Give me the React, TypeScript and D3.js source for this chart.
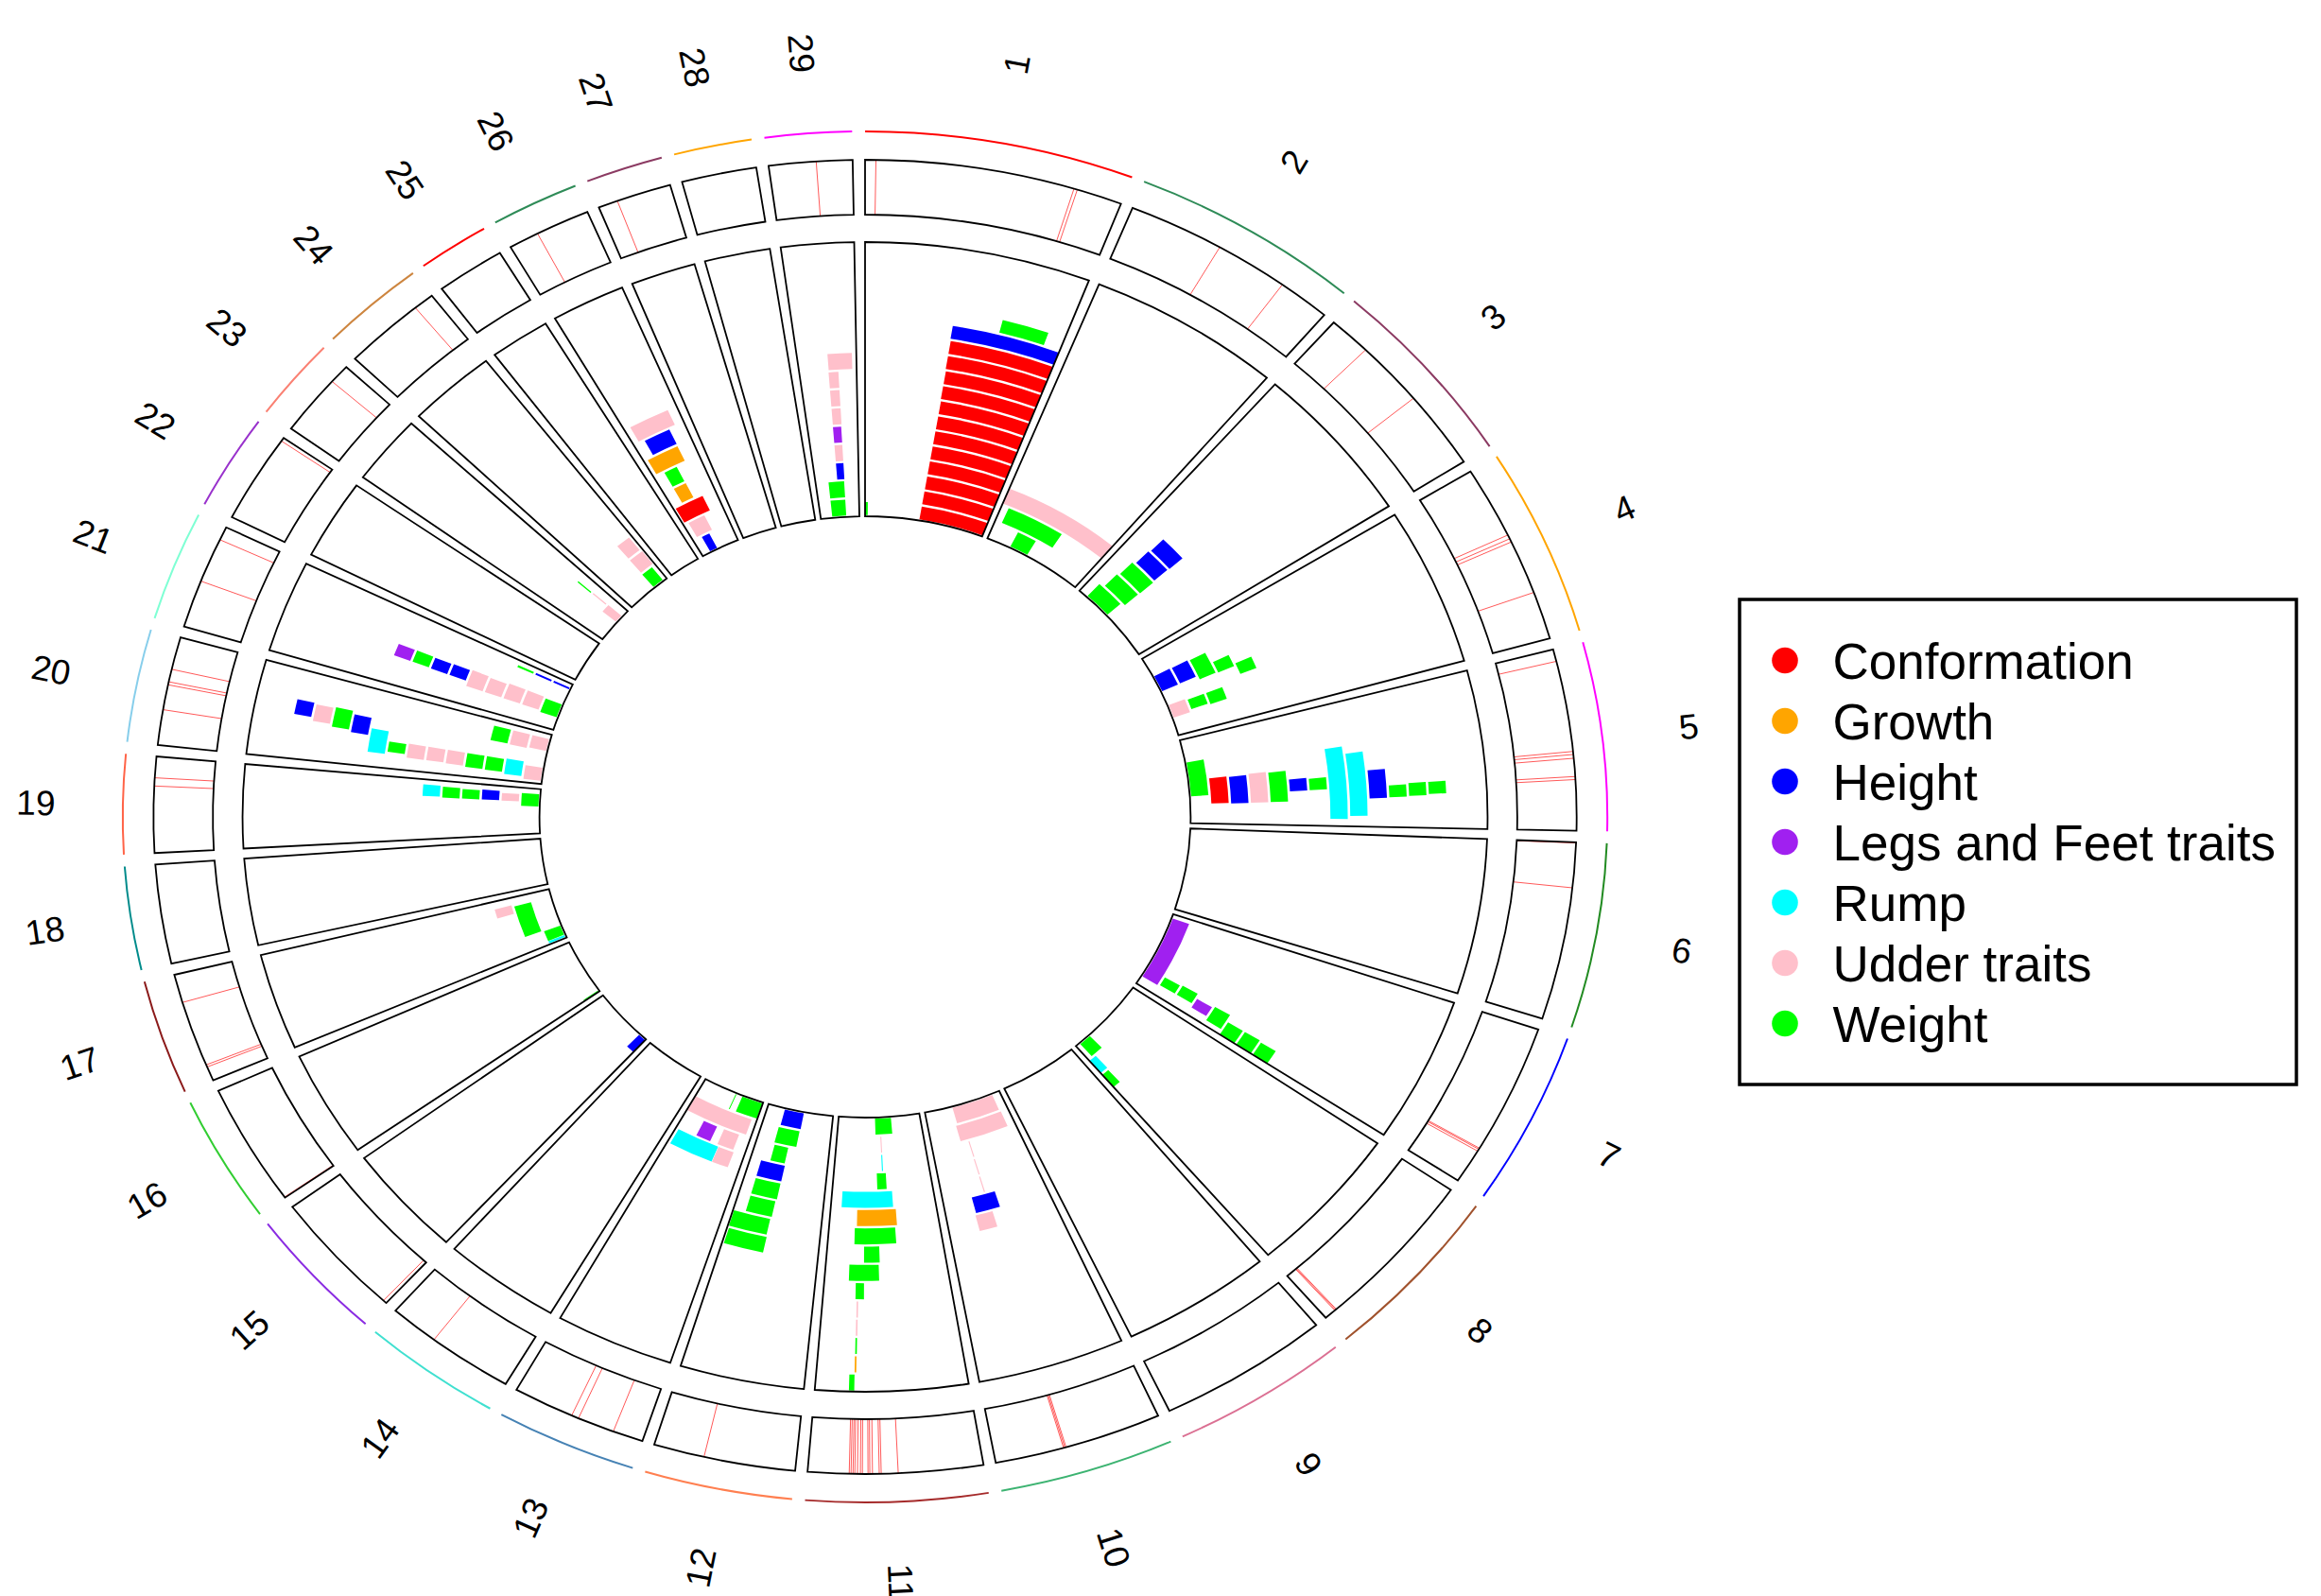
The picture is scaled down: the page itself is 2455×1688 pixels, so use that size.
import React, { useEffect, useRef } from 'react';
import * as d3 from 'd3';

// cattle autosomes, lengths in Mb
const chromosomes = ['1', '2', '3', '4', '5', '6', '7', '8', '9', '10', '11', '12', '13', '14', '15',
  '16', '17', '18', '19', '20', '21', '22', '23', '24', '25', '26', '27', '28', '29'];
const chromLengths = [158.53, 136.23, 121.01, 120.0, 120.09, 117.81, 110.68, 113.32, 105.45, 103.31,
  106.98, 87.22, 83.47, 82.4, 85.01, 81.01, 73.17, 65.82, 63.45, 71.97, 69.86, 60.77, 52.5, 62.32,
  42.35, 51.99, 45.61, 45.94, 51.1];
const chromColors = ['#FF0000', '#2E8B57', '#8B3A62', '#FFA500', '#FF00FF', '#228B22', '#0000FF',
  '#A0522D', '#DB7093', '#3CB371', '#A52A2A', '#FF7F50', '#4682B4', '#40E0D0', '#8A2BE2', '#32CD32',
  '#8B1A1A', '#008B8B', '#FF6347', '#87CEEB', '#7FFFD4', '#9932CC', '#FA8072', '#CD853F',
  '#FF0000', '#2E8B57', '#8B3A62', '#FFA500', '#FF00FF'];
// stacking rows available in each sector of the inner track
const chromLevels = [18, 15, 15, 15, 15, 15, 15, 15, 15, 15, 15, 15, 15, 15, 15, 15, 15, 15, 15, 15,
  15, 15, 15, 15, 15, 15, 15, 15, 15];

const traits = ['Conformation', 'Growth', 'Height', 'Legs and Feet traits', 'Rump', 'Udder traits', 'Weight'];
const traitColors = ['#FF0000', '#FFA500', '#0000FF', '#A020F0', '#00FFFF', '#FFC0CB', '#00FF00'];

// [chromosome, start Mb, end Mb, stack level, trait]
const qtlRegions: [number, number, number, number, string][] = [
  [1, 0, 3.5, 0, 'Weight'],
  [1, 72, 158.5, 0, 'Conformation'],
  [1, 72, 158.5, 1, 'Conformation'],
  [1, 72, 158.5, 2, 'Conformation'],
  [1, 72, 158.5, 3, 'Conformation'],
  [1, 72, 158.5, 4, 'Conformation'],
  [1, 72, 158.5, 5, 'Conformation'],
  [1, 72, 158.5, 6, 'Conformation'],
  [1, 72, 158.5, 7, 'Conformation'],
  [1, 71.5, 158.5, 8, 'Conformation'],
  [1, 71.5, 158.5, 9, 'Conformation'],
  [1, 71, 158.5, 10, 'Conformation'],
  [1, 71, 158.5, 11, 'Conformation'],
  [1, 70.5, 158.5, 12, 'Height'],
  [1, 108, 145, 13, 'Weight'],
  [2, 32.5, 57.7, 0, 'Weight'],
  [2, 8.8, 80, 1, 'Weight'],
  [2, 0, 136.2, 2, 'Udder traits'],
  [3, 13, 50.5, 0, 'Weight'],
  [3, 19.5, 55.5, 1, 'Weight'],
  [3, 22, 56, 2, 'Weight'],
  [3, 25.5, 55, 3, 'Height'],
  [3, 27, 55.5, 4, 'Height'],
  [4, 29.5, 53.5, 0, 'Height'],
  [4, 30, 53, 1, 'Height'],
  [4, 31, 58, 2, 'Weight'],
  [4, 45, 59, 3, 'Weight'],
  [4, 56.5, 70, 4, 'Weight'],
  [4, 75, 94, 0, 'Udder traits'],
  [4, 77, 90.5, 1, 'Weight'],
  [4, 77, 92, 2, 'Weight'],
  [5, 32.8, 81.6, 0, 'Weight'],
  [5, 59, 93, 1, 'Conformation'],
  [5, 60, 94, 2, 'Height'],
  [5, 59, 94, 3, 'Udder traits'],
  [5, 60, 94, 4, 'Weight'],
  [5, 70, 83, 5, 'Height'],
  [5, 71, 83, 6, 'Weight'],
  [5, 42.6, 113, 7, 'Rump'],
  [5, 50, 110, 8, 'Rump'],
  [5, 68, 94, 9, 'Height'],
  [5, 83, 93.6, 10, 'Weight'],
  [5, 82, 93, 11, 'Weight'],
  [5, 82, 92, 12, 'Weight'],
  [7, 6, 98, 0, 'Legs and Feet traits'],
  [7, 84.5, 96.5, 1, 'Weight'],
  [7, 83, 96.5, 2, 'Weight'],
  [7, 89, 101, 3, 'Legs and Feet traits'],
  [7, 87, 105, 4, 'Weight'],
  [7, 95, 110.5, 5, 'Weight'],
  [7, 95, 110.5, 6, 'Weight'],
  [7, 96.5, 110.7, 7, 'Weight'],
  [8, 90, 107, 0, 'Weight'],
  [8, 103, 113, 1, 'Rump'],
  [8, 104, 113.3, 2, 'Weight'],
  [10, 10.7, 66.3, 0, 'Udder traits'],
  [10, 9.5, 68.5, 1, 'Udder traits'],
  [10, 59, 59.2, 2, 'Udder traits'],
  [10, 59.3, 59.5, 3, 'Udder traits'],
  [10, 59.6, 59.8, 4, 'Udder traits'],
  [10, 49.6, 73.8, 5, 'Height'],
  [10, 58, 75, 6, 'Udder traits'],
  [11, 38, 59, 0, 'Weight'],
  [11, 52.4, 52.6, 1, 'Udder traits'],
  [11, 52.4, 52.6, 2, 'Rump'],
  [11, 49, 59, 3, 'Weight'],
  [11, 43.5, 96, 4, 'Rump'],
  [11, 41, 80, 5, 'Growth'],
  [11, 43, 82, 6, 'Weight'],
  [11, 59, 73, 7, 'Weight'],
  [11, 60, 86, 8, 'Weight'],
  [11, 73, 80, 9, 'Weight'],
  [11, 78.3, 78.5, 10, 'Udder traits'],
  [11, 78.5, 78.7, 11, 'Udder traits'],
  [11, 78.7, 78.9, 12, 'Weight'],
  [11, 78.9, 79.1, 13, 'Growth'],
  [11, 79.6, 83.3, 14, 'Weight'],
  [12, 38.8, 64.4, 0, 'Height'],
  [12, 39.5, 66, 1, 'Weight'],
  [12, 48.6, 65, 2, 'Weight'],
  [12, 47.8, 75, 3, 'Height'],
  [12, 48, 75, 4, 'Weight'],
  [12, 49, 75, 5, 'Weight'],
  [12, 50, 86.2, 6, 'Weight'],
  [12, 49.4, 85.5, 7, 'Weight'],
  [13, 0.8, 28.7, 0, 'Weight'],
  [13, 37.4, 37.8, 0, 'Weight'],
  [13, 6.5, 82.5, 1, 'Udder traits'],
  [13, 14, 33, 2, 'Udder traits'],
  [13, 42, 59, 2, 'Legs and Feet traits'],
  [13, 12.5, 30.5, 3, 'Udder traits'],
  [13, 31, 80, 3, 'Rump'],
  [15, 0.5, 11, 0, 'Height'],
  [16, 1, 2, 0, 'Weight'],
  [17, 1.5, 4.5, 0, 'Rump'],
  [17, 5, 19, 0, 'Weight'],
  [17, 20.3, 61.5, 1, 'Weight'],
  [17, 52.5, 63.8, 2, 'Udder traits'],
  [19, 38.7, 56, 0, 'Weight'],
  [19, 44.7, 54.5, 1, 'Udder traits'],
  [19, 45, 57, 2, 'Height'],
  [19, 45, 56, 3, 'Weight'],
  [19, 45, 57, 4, 'Weight'],
  [19, 46, 58, 5, 'Rump'],
  [20, 4.6, 23.4, 0, 'Udder traits'],
  [20, 8, 28, 1, 'Rump'],
  [20, 10.5, 27, 2, 'Weight'],
  [20, 11, 27, 3, 'Weight'],
  [20, 12, 27, 4, 'Udder traits'],
  [20, 12.7, 27, 5, 'Udder traits'],
  [20, 12.7, 27, 6, 'Udder traits'],
  [20, 16, 26, 7, 'Weight'],
  [20, 13.6, 35.5, 8, 'Rump'],
  [20, 29, 45, 9, 'Height'],
  [20, 31, 48, 10, 'Weight'],
  [20, 33, 47, 11, 'Udder traits'],
  [20, 36, 48, 12, 'Height'],
  [20, 47.6, 65, 0, 'Udder traits'],
  [20, 46.5, 65, 1, 'Udder traits'],
  [20, 47, 65, 2, 'Weight'],
  [21, 18.3, 37.8, 0, 'Weight'],
  [21, 20.5, 39.4, 1, 'Udder traits'],
  [21, 20.5, 39.5, 2, 'Udder traits'],
  [21, 20.5, 38, 3, 'Udder traits'],
  [21, 20.5, 39, 4, 'Udder traits'],
  [21, 26, 38, 5, 'Height'],
  [21, 26, 37.5, 6, 'Height'],
  [21, 26.5, 38, 7, 'Weight'],
  [21, 26.5, 38, 8, 'Legs and Feet traits'],
  [21, 61.5, 64, 0, 'Height'],
  [21, 61.5, 64, 1, 'Height'],
  [21, 61.5, 64, 2, 'Weight'],
  [23, 30.6, 41.9, 0, 'Udder traits'],
  [23, 40, 41.5, 1, 'Udder traits'],
  [23, 39.5, 41, 2, 'Weight'],
  [24, 41, 56.7, 0, 'Weight'],
  [24, 41.7, 60.5, 1, 'Udder traits'],
  [24, 42, 59, 2, 'Udder traits'],
  [26, 11.8, 22.3, 0, 'Height'],
  [26, 6.5, 27.6, 1, 'Udder traits'],
  [26, 2.4, 36.3, 2, 'Conformation'],
  [26, 12, 26.3, 3, 'Growth'],
  [26, 12, 26, 4, 'Weight'],
  [26, 3.9, 36.3, 5, 'Growth'],
  [26, 11, 36.6, 6, 'Height'],
  [26, 5.8, 43.3, 7, 'Udder traits'],
  [29, 15.3, 33.8, 0, 'Weight'],
  [29, 15.3, 33.8, 1, 'Weight'],
  [29, 25.9, 34.3, 2, 'Height'],
  [29, 25.9, 34.3, 3, 'Udder traits'],
  [29, 25.9, 34.3, 4, 'Legs and Feet traits'],
  [29, 26, 34.8, 5, 'Udder traits'],
  [29, 26, 34.8, 6, 'Udder traits'],
  [29, 26, 34.8, 7, 'Udder traits'],
  [29, 26.3, 47.3, 8, 'Udder traits'],
];

// significant SNPs in the middle track: [chromosome, position Mb]
const snpMarks: [number, number][] = [
  [1, 6.6], [1, 128.4], [1, 130.5],
  [2, 58.8], [2, 104],
  [3, 26.4], [3, 69.4],
  [4, 47.5], [4, 50.2], [4, 52.5], [4, 88.3],
  [5, 8], [5, 68], [5, 70], [5, 72.5], [5, 84.5], [5, 86.5],
  [6, 0.5], [6, 30],
  [7, 85.8], [7, 86.6], [7, 88],
  [8, 104.8], [8, 105.4], [8, 106],
  [10, 59.5], [10, 60.3], [10, 61.1],
  [11, 52], [11, 62.3], [11, 63.5], [11, 67.6], [11, 69.2], [11, 70.3], [11, 73.7], [11, 74.9],
  [11, 76.7], [11, 78.3], [11, 79.4], [11, 80.6], [11, 81.7],
  [12, 56],
  [13, 18.7], [13, 41.5], [13, 46],
  [14, 52.3],
  [15, 2.3],
  [16, 0.5],
  [17, 9.5], [17, 11], [17, 54.4],
  [19, 44], [19, 49.4],
  [20, 23.4], [20, 40], [20, 42], [20, 50.4],
  [21, 31.4], [21, 60.9],
  [22, 58.3],
  [23, 39.7],
  [24, 49.6],
  [26, 18.6],
  [27, 12],
  [29, 29],
];

const W = 2455;
const H = 1688;
const CX = 915;
const CY = 864;
const STRETCH = 1.083;
const GAP_DEG = 1;

const App = () => {
  const svgRef = useRef<SVGSVGElement>(null);

  useEffect(() => {
    const svg = d3.select(svgRef.current).attr('width', W).attr('height', H);
    svg.selectAll('*').remove();

    const rad = Math.PI / 180;
    const total = d3.sum(chromLengths);
    const degPerMb = (360 - GAP_DEG * chromosomes.length) / total;

    let acc = 0;
    const sectors = chromosomes.map((name, i) => {
      const start = acc;
      const end = acc + chromLengths[i] * degPerMb;
      acc = end + GAP_DEG;
      return {
        name,
        a0: start * rad,
        a1: end * rad,
        x: d3.scaleLinear().domain([0, chromLengths[i]]).range([start * rad, end * rad]),
        y: d3.scaleLinear().domain([0, chromLevels[i]]).range([318, 608]),
      };
    });

    const arc = d3.arc();
    const g = svg.append('g').attr('transform', `translate(${CX},${CY}) scale(${STRETCH},1)`);

    // stacked QTL regions
    const traitColor = d3.scaleOrdinal<string, string>().domain(traits).range(traitColors);
    g.selectAll('path.qtl')
      .data(qtlRegions)
      .join('path')
      .attr('class', 'qtl')
      .attr('d', d => {
        const s = sectors[d[0] - 1];
        let a0 = s.x(d[1]);
        let a1 = s.x(d[2]);
        const minW = 0.16 * rad;
        if (a1 - a0 < minW) {
          const m = (a0 + a1) / 2;
          a0 = m - minW / 2;
          a1 = m + minW / 2;
        }
        return arc({ innerRadius: s.y(d[3]) + 1.2, outerRadius: s.y(d[3] + 1) - 1.2, startAngle: a0, endAngle: a1 } as any);
      })
      .attr('fill', d => traitColor(d[4]));

    // SNP marks
    g.selectAll('line.snp')
      .data(snpMarks)
      .join('line')
      .attr('class', 'snp')
      .each(function (d) {
        const a = sectors[d[0] - 1].x(d[1]);
        const p0 = d3.pointRadial(a, 637);
        const p1 = d3.pointRadial(a, 695);
        d3.select(this).attr('x1', p0[0]).attr('y1', p0[1]).attr('x2', p1[0]).attr('y2', p1[1]);
      })
      .attr('stroke', '#FF0000')
      .attr('stroke-opacity', 0.65)
      .attr('stroke-width', 1)
      .attr('vector-effect', 'non-scaling-stroke');

    // track borders
    [[637, 695], [318, 608]].forEach(([ri, ro]) => {
      g.append('g')
        .selectAll('path')
        .data(sectors)
        .join('path')
        .attr('d', s => arc({ innerRadius: ri, outerRadius: ro, startAngle: s.a0, endAngle: s.a1 } as any))
        .attr('fill', 'none')
        .attr('stroke', '#000')
        .attr('stroke-width', 1.8)
        .attr('vector-effect', 'non-scaling-stroke');
    });

    // chromosome colour ring
    g.append('g')
      .selectAll('path')
      .data(sectors)
      .join('path')
      .attr('d', s => {
        const p = d3.path();
        p.arc(0, 0, 725, s.a0 - Math.PI / 2, s.a1 - Math.PI / 2);
        return p.toString();
      })
      .attr('fill', 'none')
      .attr('stroke', (s, i) => chromColors[i])
      .attr('stroke-width', 2)
      .attr('vector-effect', 'non-scaling-stroke');

    // chromosome names
    svg.append('g')
      .selectAll('text')
      .data(sectors)
      .join('text')
      .attr('transform', s => {
        const m = (s.a0 + s.a1) / 2;
        const deg = m / rad;
        const x = CX + STRETCH * 810 * Math.sin(m);
        const y = CY - 810 * Math.cos(m);
        const rot = deg < 180 ? deg - 90 : deg - 270;
        return `translate(${x},${y}) rotate(${rot})`;
      })
      .attr('text-anchor', 'middle')
      .attr('dy', '0.35em')
      .attr('font-family', "'Liberation Sans', Arial, sans-serif")
      .attr('font-size', 37)
      .attr('fill', '#000')
      .text(s => s.name);

    // legend
    const lg = svg.append('g');
    lg.append('rect')
      .attr('x', 1840).attr('y', 634).attr('width', 589).attr('height', 513)
      .attr('fill', '#fff').attr('stroke', '#000').attr('stroke-width', 3.5);
    const ly = d3.scalePoint<string>().domain(traits).range([698.5, 1082.5]);
    lg.selectAll('circle')
      .data(traits)
      .join('circle')
      .attr('cx', 1888)
      .attr('cy', t => ly(t)!)
      .attr('r', 13.8)
      .attr('fill', t => traitColor(t));
    lg.selectAll('text')
      .data(traits)
      .join('text')
      .attr('x', 1938.5)
      .attr('y', t => ly(t)! + 19)
      .attr('font-family', "'Liberation Sans', Arial, sans-serif")
      .attr('font-size', 53)
      .attr('fill', '#000')
      .text(t => t);
  }, []);

  return (
    <svg
      ref={svgRef}
      width={W}
      height={H}
      style={{ position: 'absolute', left: 0, top: 0, background: '#fff', display: 'block' }}
    />
  );
};

export default App;
